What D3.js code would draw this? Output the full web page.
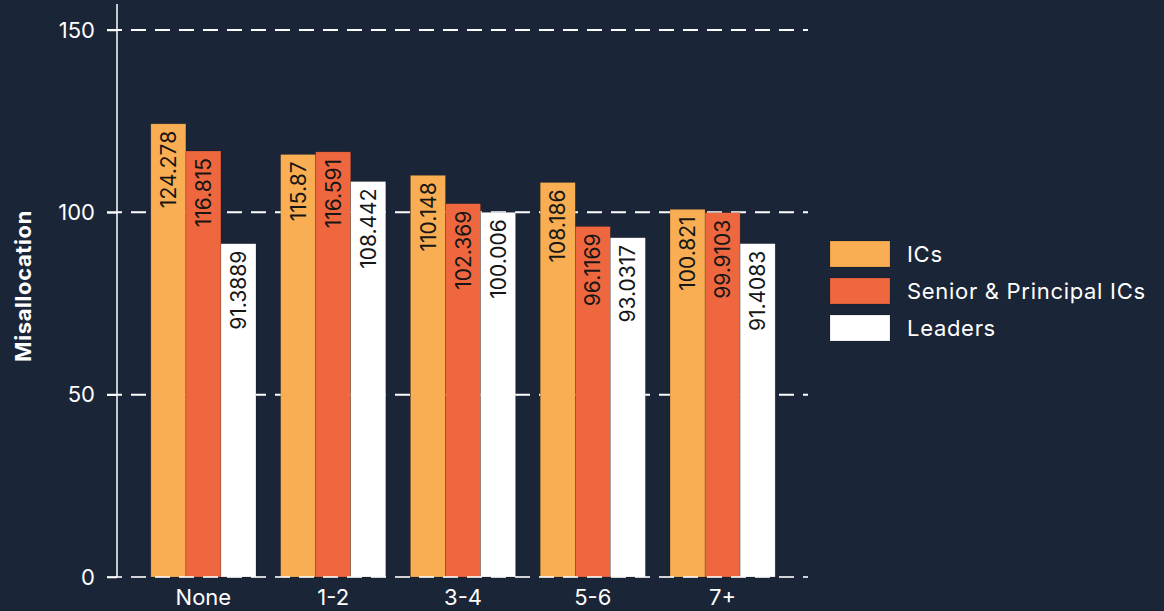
<!DOCTYPE html>
<html>
<head>
<meta charset="utf-8">
<script src="https://cdn.jsdelivr.net/npm/d3@7"></script>
<style>
  html, body { margin: 0; padding: 0; background: #1a2537; }
  svg { display: block; }
  text { font-family: Inter, "Open Sans", sans-serif; }
</style>
</head>
<body>
<svg id="chart" width="1164" height="611"></svg>
<script>
// Tenure groups along the x axis
const categories = ["None", "1-2", "3-4", "5-6", "7+"];
const seriesNames = ["ICs", "Senior & Principal ICs", "Leaders"];
const seriesColors = ["#f9ae53", "#ef673e", "#ffffff"];
// Misallocation per series, one value per category
const icsValues = [124.278, 115.87, 110.148, 108.186, 100.821];
const seniorValues = [116.815, 116.591, 102.369, 96.1169, 99.9103];
const leaderValues = [91.3889, 108.442, 100.006, 93.0317, 91.4083];
const yTicks = [0, 50, 100, 150];
const yTitle = "Misallocation";

const series = [icsValues, seniorValues, leaderValues];

const svg = d3.select("#chart");
const plotLeft = 117, plotRight = 808, plotTop = 4, plotBottom = 577;

const y = d3.scaleLinear().domain([0, 150]).range([plotBottom, 30]);

const x0 = d3.scaleBand()
  .domain(categories)
  .range([138.5, 787.5])
  .paddingInner(0.19)
  .paddingOuter(0.095);

const x1 = d3.scaleBand()
  .domain(d3.range(seriesNames.length))
  .range([0, x0.bandwidth()]);

// Dashed gridlines
svg.append("g")
  .selectAll("line")
  .data(yTicks.filter(d => d !== 0))
  .join("line")
  .attr("x1", 107).attr("x2", plotRight)
  .attr("y1", d => y(d)).attr("y2", d => y(d))
  .attr("stroke", "#ffffff")
  .attr("stroke-width", 2)
  .attr("stroke-dasharray", "15,9");

// Bars
const groups = svg.append("g")
  .selectAll("g")
  .data(categories)
  .join("g")
  .attr("transform", d => `translate(${x0(d)},0)`);

groups.selectAll("rect")
  .data((c, ci) => series.map((s, si) => ({ si, v: s[ci] })))
  .join("rect")
  .attr("x", d => x1(d.si))
  .attr("width", x1.bandwidth())
  .attr("y", d => y(d.v))
  .attr("height", d => y(0) - y(d.v))
  .attr("fill", d => seriesColors[d.si])
  .attr("stroke", "rgba(0,0,0,0.25)")
  .attr("stroke-width", 0.6);

// Value labels, reading upward and ending just below the bar top
groups.selectAll("text")
  .data((c, ci) => series.map((s, si) => ({ si, v: s[ci] })))
  .join("text")
  .attr("transform", d => `translate(${x1(d.si) + x1.bandwidth() / 2},${y(d.v) + 7}) rotate(-90)`)
  .attr("dy", "0.36em")
  .attr("text-anchor", "end")
  .attr("font-size", 21)
  .attr("fill", "#161616")
  .text(d => d.v);

// Baseline across the bars
svg.append("line")
  .attr("x1", 107).attr("x2", plotRight)
  .attr("y1", plotBottom).attr("y2", plotBottom)
  .attr("stroke", "#ffffff").attr("stroke-width", 2)
  .attr("stroke-dasharray", "15,9").attr("opacity", 0.8);

// Y axis
const yAxis = svg.append("g")
  .attr("transform", `translate(${plotLeft},0)`)
  .call(d3.axisLeft(y).tickValues(yTicks).tickSize(10).tickPadding(12));
yAxis.select(".domain").remove();
yAxis.selectAll(".tick line").attr("stroke", "#ffffff").attr("stroke-width", 1.5);
yAxis.selectAll(".tick text")
  .attr("fill", "#ffffff")
  .attr("font-size", 22)
  .style("font-family", "Inter, sans-serif");
svg.append("line")
  .attr("x1", plotLeft).attr("x2", plotLeft)
  .attr("y1", plotTop).attr("y2", plotBottom)
  .attr("stroke", "#ffffff").attr("stroke-width", 1.5);

// X axis labels
const xAxis = svg.append("g")
  .attr("transform", `translate(0,${plotBottom})`)
  .call(d3.axisBottom(x0).tickSize(0).tickPadding(12));
xAxis.select(".domain").remove();
xAxis.selectAll(".tick text")
  .attr("fill", "#ffffff")
  .attr("font-size", 22)
  .style("font-family", "Inter, sans-serif");

// Y axis title
svg.append("text")
  .attr("transform", `translate(23,286) rotate(-90)`)
  .attr("dy", "0.36em")
  .attr("text-anchor", "middle")
  .attr("font-size", 22)
  .attr("font-weight", "bold")
  .attr("letter-spacing", 0.6)
  .attr("fill", "#ffffff")
  .text(yTitle);

// Legend
const legend = svg.append("g").attr("transform", "translate(830,241)");
const items = legend.selectAll("g")
  .data(seriesNames)
  .join("g")
  .attr("transform", (d, i) => `translate(0,${i * 37})`);
items.append("rect")
  .attr("width", 60).attr("height", 26)
  .attr("fill", (d, i) => seriesColors[i])
  .attr("stroke", "rgba(0,0,0,0.25)").attr("stroke-width", 0.6);
items.append("text")
  .attr("x", 77).attr("y", 13)
  .attr("dy", "0.36em")
  .attr("font-size", 22)
  .attr("letter-spacing", 0.7)
  .attr("fill", "#ffffff")
  .text(d => d);
</script>
</body>
</html>
